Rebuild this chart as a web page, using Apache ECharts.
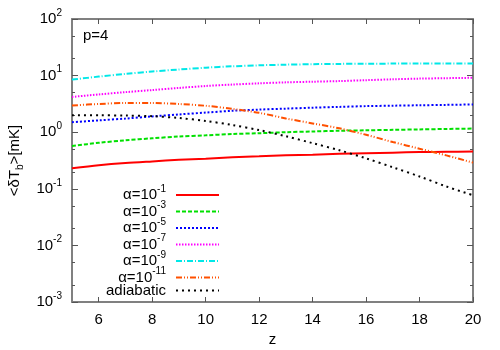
<!DOCTYPE html>
<html>
<head>
<meta charset="utf-8">
<script src="https://cdn.jsdelivr.net/npm/echarts@6/dist/echarts.min.js"></script>
<style>
  html, body { margin: 0; padding: 0; background: #fff; }
  #chart { width: 500px; height: 350px; }
</style>
</head>
<body>
<div id="chart"></div>
<script>
    var z = [5, 6, 7, 8, 9, 10, 11, 12, 13, 14, 15, 16, 17, 18, 19, 20];

    // <dTb> [mK], one value per z
    var alpha1  = [0.23, 0.26, 0.285, 0.305, 0.325, 0.34, 0.36, 0.375, 0.39, 0.40, 0.415, 0.425, 0.435, 0.445, 0.45, 0.455];
    var alpha3  = [0.57, 0.65, 0.72, 0.78, 0.84, 0.88, 0.93, 0.96, 1.0, 1.03, 1.06, 1.08, 1.10, 1.12, 1.14, 1.16];
    var alpha5  = [1.50, 1.62, 1.74, 1.90, 2.06, 2.22, 2.39, 2.51, 2.61, 2.71, 2.80, 2.89, 2.94, 2.99, 3.04, 3.09];
    var alpha7  = [4.2, 4.65, 5.1, 5.55, 6.05, 6.55, 6.95, 7.3, 7.6, 7.8, 8.0, 8.3, 8.6, 8.85, 9.0, 9.15];
    var alpha9  = [8.5, 9.6, 10.7, 11.8, 12.8, 13.8, 14.6, 15.2, 15.6, 15.9, 16.1, 16.2, 16.3, 16.35, 16.4, 16.4];
    var alpha11 = [2.96, 3.15, 3.28, 3.28, 3.15, 2.93, 2.58, 2.2, 1.75, 1.43, 1.17, 0.90, 0.67, 0.51, 0.39, 0.29];
    var adiabatic = [2.0, 1.99, 1.97, 1.92, 1.78, 1.58, 1.34, 1.09, 0.85, 0.64, 0.48, 0.345, 0.24, 0.165, 0.11, 0.077];

    var names = ['α=10^-1', 'α=10^-3', 'α=10^-5', 'α=10^-7', 'α=10^-9', 'α=10^-11', 'adiabatic'];
    var xTicks = [6, 8, 10, 12, 14, 16, 18, 20];
    var yMinorTicks = [0.002, 0.005, 0.02, 0.05, 0.2, 0.5, 2, 5, 20, 50];

    var colors = ['#ff0000', '#00e000', '#0000ff', '#ff00ff', '#00e8e8', '#ff5000', '#000000'];
    var dashes = ['solid', [4, 2], [2, 2], [1.5, 1.5], [6, 2, 1, 2], [6, 2, 1, 2, 1, 2], [2, 4]];

    var FONT = 'Liberation Sans';
    var frame = {color: '#808080', width: 2};

    var values = [alpha1, alpha3, alpha5, alpha7, alpha9, alpha11, adiabatic];
    var series = values.map(function (v, i) {
        return {
            name: names[i],
            type: 'line',
            data: z.map(function (x, j) { return [x, v[j]]; }),
            symbol: 'none',
            smooth: 0.3,
            lineStyle: {color: colors[i], width: 2, type: dashes[i]},
            itemStyle: {color: colors[i]}
        };
    });

    var chart = echarts.init(document.getElementById('chart'));
    chart.setOption({
        animation: false,
        title: {
            text: 'p=4', left: 83, top: 27, padding: 0,
            textStyle: {fontFamily: FONT, fontSize: 15, fontWeight: 'normal', color: '#000', lineHeight: 18}
        },
        grid: {left: 72, right: 27, top: 19, bottom: 48, containLabel: false, outerBoundsMode: 'none'},
        legend: {
            orient: 'vertical', right: 280, top: 184, padding: 0,
            align: 'right', itemWidth: 43, itemHeight: 14, itemGap: -2,
            selectedMode: false,
            data: names,
            itemStyle: {opacity: 0},   // hide the marker, keep only the line sample
            formatter: function (name) {
                var p = name.split('^');
                return p.length > 1 ? '{m|' + p[0] + '}{s|' + p[1] + '}' : '{a|' + name + '}';
            },
            textStyle: {
                fontFamily: FONT, fontSize: 15, color: '#000',
                rich: {
                    m: {fontFamily: FONT, fontSize: 15, lineHeight: 22, color: '#000'},
                    a: {fontFamily: FONT, fontSize: 15, lineHeight: 22, color: '#000', padding: [0, 5, 0, 0]},
                    s: {fontFamily: FONT, fontSize: 10, lineHeight: 10, color: '#000', verticalAlign: 'top', padding: [0, 5, 0, 0]}
                }
            }
        },
        xAxis: [{
            type: 'value', min: 5, max: 20, position: 'bottom',
            axisLine: {lineStyle: frame},
            axisTick: {inside: true, length: 5, customValues: xTicks, lineStyle: {color: '#555'}},
            axisLabel: {customValues: xTicks, margin: 10, fontFamily: FONT, fontSize: 15, color: '#000'},
            splitLine: {show: false},
            name: 'z', nameLocation: 'middle', nameGap: 30,
            nameTextStyle: {fontFamily: FONT, fontSize: 15, color: '#000'}
        }, {
            type: 'value', min: 5, max: 20, position: 'top',
            axisLine: {lineStyle: frame},
            axisTick: {inside: true, length: 5, customValues: xTicks, lineStyle: {color: '#555'}},
            axisLabel: {show: false},
            splitLine: {show: false}
        }],
        yAxis: [{
            type: 'log', logBase: 10, min: 0.001, max: 100, position: 'left',
            axisLine: {lineStyle: frame},
            axisTick: {inside: true, length: 6, lineStyle: {color: '#555'}},
            axisLabel: {
                margin: 10,
                formatter: function (v) {
                    return '{b|10}{s|' + Math.round(Math.log10(v)) + '}';
                },
                rich: {
                    b: {fontFamily: FONT, fontSize: 15, lineHeight: 22, color: '#000'},
                    s: {fontFamily: FONT, fontSize: 10, lineHeight: 10, color: '#000', verticalAlign: 'top'}
                }
            },
            splitLine: {show: false},
            name: '{m|<δT}{b|b}{m|>[mK]}', nameLocation: 'middle', nameRotate: 90, nameGap: 42,
            nameTextStyle: {
                rich: {
                    m: {fontFamily: FONT, fontSize: 15, lineHeight: 22, color: '#000'},
                    b: {fontFamily: FONT, fontSize: 10, lineHeight: 10, color: '#000', verticalAlign: 'bottom'}
                }
            }
        }, {
            type: 'log', logBase: 10, min: 0.001, max: 100, position: 'right',
            axisLine: {lineStyle: frame},
            axisTick: {inside: true, length: 6, lineStyle: {color: '#555'}},
            axisLabel: {show: false},
            splitLine: {show: false}
        }, {
            // minor ticks at 2 and 5 of each decade
            type: 'log', logBase: 10, min: 0.001, max: 100, position: 'left',
            axisLine: {show: false},
            axisTick: {inside: true, length: 3, customValues: yMinorTicks, lineStyle: {color: '#555'}},
            axisLabel: {show: false},
            splitLine: {show: false}
        }, {
            type: 'log', logBase: 10, min: 0.001, max: 100, position: 'right',
            axisLine: {show: false},
            axisTick: {inside: true, length: 3, customValues: yMinorTicks, lineStyle: {color: '#555'}},
            axisLabel: {show: false},
            splitLine: {show: false}
        }],
        series: series
    });
</script>
</body>
</html>
